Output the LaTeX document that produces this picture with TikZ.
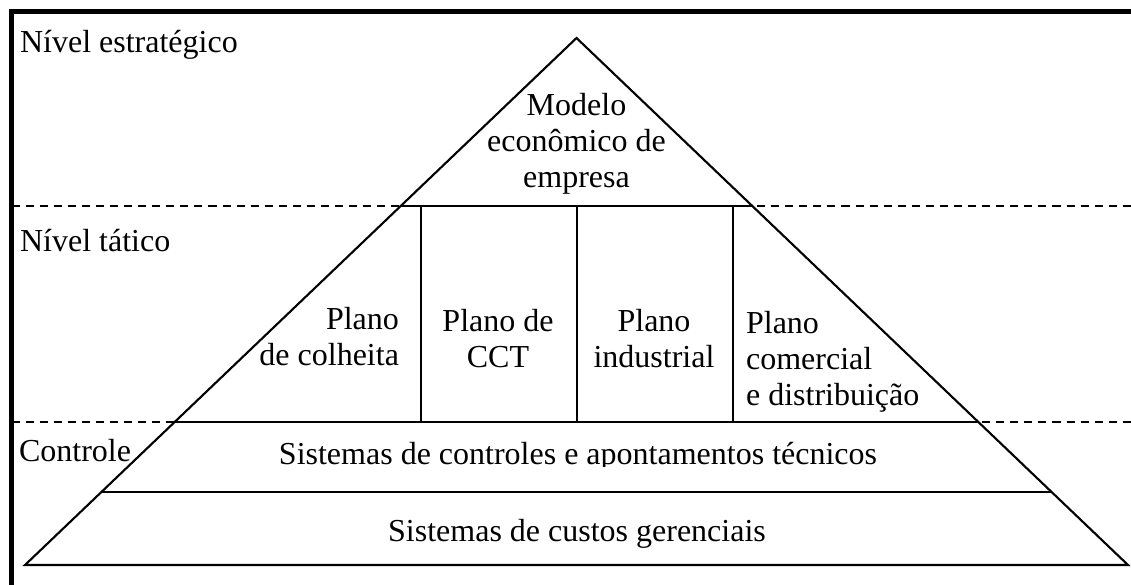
\documentclass[tikz,border=0pt]{standalone}
\usepackage{fontspec}
\setmainfont{Liberation Serif}
\usetikzlibrary{calc}
\begin{document}
\begin{tikzpicture}[x=0.01cm, y=-0.01cm, line width=0.6pt,
  lbl/.style={inner sep=0pt, font=\fontsize{9.1}{10.1}\selectfont},
  level/.style={dash pattern=on 2.3pt off 1.7pt}]
\useasboundingbox (0,0) rectangle (1131,584);
% frame
\draw[line width=1.15pt] (11.5,600) -- (11.5,11.5) -- (1140,11.5);

% pyramid
\path (576.5,38) coordinate (apex) (25,565) coordinate (bl) (1128,565) coordinate (br);
\path ($(apex)!0.3188!(bl)$) coordinate (tl) ($(apex)!0.3188!(br)$) coordinate (tr);
\path ($(apex)!0.7287!(bl)$) coordinate (cl) ($(apex)!0.7287!(br)$) coordinate (cr);
\path ($(apex)!0.8615!(bl)$) coordinate (sl) ($(apex)!0.8615!(br)$) coordinate (sr);

\draw[level] (11.5,206) -- (1131,206);
\draw[level] (11.5,422) -- (1131,422);
\draw (bl) -- (apex) -- (br) -- cycle;
\draw (tl) -- (tr);
\draw (cl) -- (cr);
\draw (sl) -- (sr);
\foreach \x in {421,577,733}
  \draw (\x,206) -- (\x,422);

% levels
\node[lbl, anchor=base west] (strat) at (19,52) {Nível estratégico};
\node[lbl, anchor=base west] (tatic) at (19,251) {Nível tático};
\node[lbl, anchor=base west] (ctrl) at (18,461) {Controle};

% blocks (base = last line)
\node[lbl, anchor=base, align=center] (modelo) at (576.5,187) {Modelo\\econômico de\\empresa};
\node[lbl, anchor=base east, align=right] (colheita) at (400,365) {Plano\\de colheita};
\node[lbl, anchor=base, align=center] (cct) at (498,367) {Plano de\\CCT};
\node[lbl, anchor=base, align=center] (indus) at (654,367) {Plano\\industrial};
\node[lbl, anchor=base west, align=left] (comerc) at (745,405) {Plano\\comercial\\e distribuição};
\begin{scope}
  \clip (0,422) rectangle (1131,466.5);
  \node[lbl, anchor=base] (apont) at (578,464.5) {Sistemas de controles e apontamentos técnicos};
\end{scope}
\node[lbl, anchor=base] (custos) at (577,541) {Sistemas de custos gerenciais};
\end{tikzpicture}
\end{document}
